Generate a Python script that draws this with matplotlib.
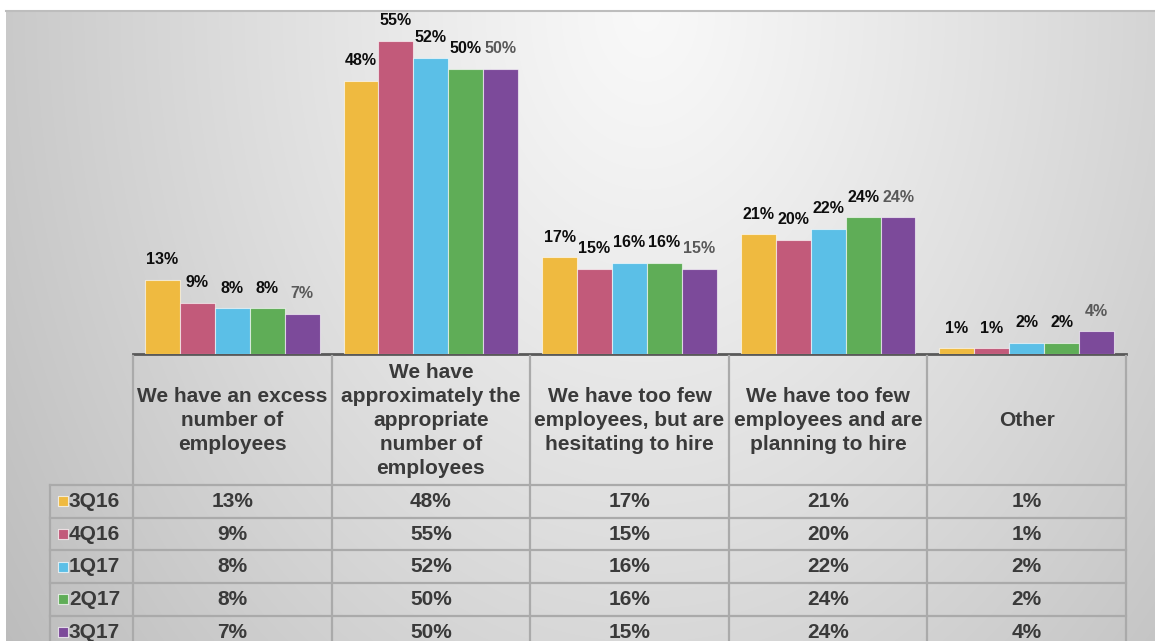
import numpy as np
import matplotlib
matplotlib.use("Agg")
import matplotlib.pyplot as plt

plt.rcParams['font.family'] = ['Liberation Sans', 'DejaVu Sans']

categories = [
    "We have an excess\nnumber of\nemployees",
    "We have\napproximately the\nappropriate\nnumber of\nemployees",
    "We have too few\nemployees, but are\nhesitating to hire",
    "We have too few\nemployees and are\nplanning to hire",
    "Other",
]
series_names = ["3Q16", "4Q16", "1Q17", "2Q17", "3Q17"]
s_3Q16 = [13, 48, 17, 21, 1]
s_4Q16 = [9, 55, 15, 20, 1]
s_1Q17 = [8, 52, 16, 22, 2]
s_2Q17 = [8, 50, 16, 24, 2]
s_3Q17 = [7, 50, 15, 24, 4]
series = [s_3Q16, s_4Q16, s_1Q17, s_2Q17, s_3Q17]
colors = ["#EFBA40", "#C25A7A", "#5BBFE7", "#5FAD57", "#7C4A9A"]
label_colors = ["#0D0D0D", "#0D0D0D", "#0D0D0D", "#0D0D0D", "#595959"]

W, H = 1155, 641
fig = plt.figure(figsize=(W / 100, H / 100), dpi=100)
fig.patch.set_facecolor("white")

# background radial gradient
bg = fig.add_axes([6 / W, 0, 1 - 6 / W, (H - 11) / H])
bg.set_axis_off()
yy, xx = np.mgrid[0:630, 0:1149]
cx, cy = 640.0, 0.0
r = np.sqrt(((xx - cx) / 700.0) ** 2 + ((yy - cy) / 950.0) ** 2)
v = 0.975 - 0.205 * np.clip(r, 0, 1.2) ** 1.15
v = np.clip(v, 0, 1)
bg.imshow(np.dstack([v, v, v]), aspect="auto", extent=(0, 1, 0, 1), origin="upper")
bg.set_xlim(0, 1)
bg.set_ylim(0, 1)
bg.plot([0, 1], [1, 1], color="#BDBDBD", lw=1.5, transform=bg.transAxes, clip_on=False)

# bar axes
x0_px, x1_px = 133, 1126
base_px, top_px = 354, 15
ax = fig.add_axes([x0_px / W, (H - base_px) / H, (x1_px - x0_px) / W, (base_px - top_px) / H])
ax.patch.set_alpha(0)
n = len(categories)
ns = len(series)
x = np.arange(n)
bw = 0.176
for i, (vals, c, lc) in enumerate(zip(series, colors, label_colors)):
    pos = x + (i - (ns - 1) / 2) * bw
    ax.bar(pos, vals, width=bw, color=c, edgecolor=(1, 1, 1, 0.6), linewidth=0.8, zorder=3)
    for px, val in zip(pos, vals):
        ax.annotate(f"{val}%", (px, val), xytext=(0, 14.5), textcoords="offset points",
                    ha="center", va="center", fontsize=11.5, fontweight="bold", color=lc)
ax.set_xlim(-0.5, n - 0.5)
ax.set_ylim(0, 59.5)
for s in ["top", "right", "left"]:
    ax.spines[s].set_visible(False)
ax.spines["bottom"].set_color("#595959")
ax.spines["bottom"].set_linewidth(2)
ax.set_xticks([])
ax.set_yticks([])

# data table axes
tab_h_px = H - base_px
tax = fig.add_axes([x0_px / W, 0, (x1_px - x0_px) / W, tab_h_px / H])
tax.set_axis_off()
tax.set_xlim(-0.5, n - 0.5)
tax.set_ylim(tab_h_px, 0)
unit = (x1_px - x0_px) / n
header_h = 131
row_h = 32.7
left_x = -0.5 - (x0_px - 50) / unit
gc = "#AAAAAA"
lw = 1.6
for k in range(n + 1):
    tax.plot([k - 0.5, k - 0.5], [2, tab_h_px + 10], color=gc, lw=lw, clip_on=False)
tax.plot([left_x, left_x], [header_h, tab_h_px + 10], color=gc, lw=lw, clip_on=False)
for j in range(ns + 1):
    yv = header_h + j * row_h
    tax.plot([left_x, n - 0.5], [yv, yv], color=gc, lw=lw, clip_on=False)
tcol = "#3A3A3A"
for k, cat in enumerate(categories):
    tax.text(k, header_h / 2 + 1, cat, ha="center", va="center", fontsize=15,
             fontweight="bold", color=tcol, linespacing=1.32)
for j, (name, vals, c) in enumerate(zip(series_names, series, colors)):
    yc = header_h + (j + 0.5) * row_h
    mx = -0.5 - (x0_px - 63) / unit
    tax.scatter([mx], [yc], marker="s", s=52, color=c, edgecolor=(1, 1, 1, 0.7),
                linewidth=0.8, clip_on=False, zorder=4)
    tax.text(-0.5 - (x0_px - 69) / unit, yc, name, ha="left", va="center", fontsize=15,
             fontweight="bold", color=tcol, clip_on=False)
    for k, val in enumerate(vals):
        tax.text(k, yc, f"{val}%", ha="center", va="center", fontsize=15,
                 fontweight="bold", color=tcol)

fig.savefig("out.png", dpi=100, facecolor="white")
